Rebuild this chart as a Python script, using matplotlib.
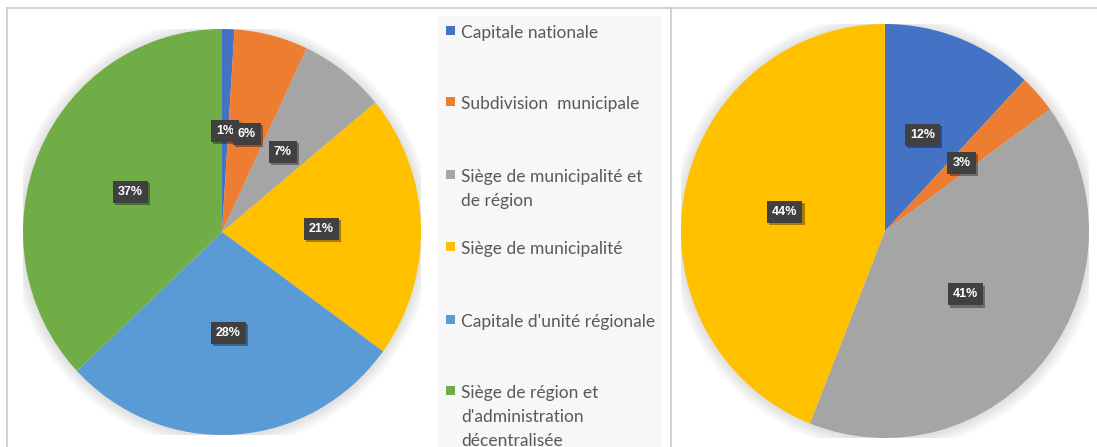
import matplotlib
matplotlib.use("Agg")
import matplotlib.pyplot as plt
import matplotlib.patheffects as pe
from matplotlib.patches import Rectangle, Circle
from matplotlib.lines import Line2D

# Categories and colours (shared legend)
categories = [
    "Capitale nationale",
    "Subdivision  municipale",
    "Siège de municipalité et\nde région",
    "Siège de municipalité",
    "Capitale d'unité régionale",
    "Siège de région et\nd'administration\ndécentralisée",
]
colors = ["#4472C4", "#ED7D31", "#A5A5A5", "#FFC000", "#5B9BD5", "#70AD47"]

# Left pie: all six categories (percent)
left_values = [1, 6, 7, 21, 28, 37]
# Right pie: first four categories (percent)
right_values = [12, 3, 41, 44]

W, H = 1097, 447
fig = plt.figure(figsize=(W / 100, H / 100), dpi=100)
fig.patch.set_facecolor("white")


def px_axes(x0, y0, x1, y1, **kw):
    """Axes from pixel box (top-left origin)."""
    return fig.add_axes([x0 / W, 1 - y1 / H, (x1 - x0) / W, (y1 - y0) / H], **kw)


# Frame lines
frame = fig.add_axes([0, 0, 1, 1], zorder=0)
frame.set_xlim(0, W)
frame.set_ylim(H, 0)
frame.axis("off")
lc = "#c9c9c9"
frame.add_line(Line2D([7, W], [8, 8], color=lc, lw=1.2))
frame.add_line(Line2D([7, 7], [8, H], color=lc, lw=1.2))
frame.add_line(Line2D([671, 671], [8, H], color=lc, lw=1.2))
# Legend background
frame.add_patch(Rectangle((438, 16), 224, H - 16, facecolor="#f7f7f7", edgecolor="none"))

# Legend entries
legend_rows = [31, 102, 175, 247, 320, 391]
for cat, col, yc in zip(categories, colors, legend_rows):
    frame.add_patch(Rectangle((446, yc - 5), 9, 9, facecolor=col, edgecolor="none"))
    frame.text(461, yc - 6, cat, color="#595959", fontsize=12.5, family="Lato",
               va="top", ha="left", linespacing=1.6)


def draw_pie(box, values, cols):
    ax = px_axes(*box)
    ax.set_zorder(2)
    # soft shadow
    for i in range(10):
        ax.add_patch(Circle((0.0, -0.005), 1.0 + 0.006 * (i + 1), facecolor="black",
                            edgecolor="none", alpha=0.012, zorder=0))
    wedges, texts = ax.pie(values, colors=cols, startangle=90, counterclock=False,
                           labels=[f"{v}%" for v in values], labeldistance=0.5,
                           wedgeprops=dict(linewidth=0), radius=1.0)
    for t in texts:
        t.set_ha("center")
        t.set_va("center")
        t.set_color("white")
        t.set_fontsize(9)
        t.set_fontweight("bold")
        t.set_family("Liberation Sans")
        t.set_bbox(dict(boxstyle="square,pad=0.4", facecolor="#404040", edgecolor="none"))
        t.get_bbox_patch().set_path_effects(
            [pe.SimplePatchShadow(offset=(1.5, -1.5), shadow_rgbFace="black", alpha=0.35),
             pe.Normal()])
        t.set_zorder(5)
    ax.set_aspect("auto")
    ax.set_xlim(-1, 1)
    ax.set_ylim(-1, 1)
    ax.axis("off")
    return ax


draw_pie((23, 29, 421, 435), left_values, colors)
draw_pie((681, 24, 1089, 438), right_values, colors[:4])

fig.savefig("out.png", dpi=100, facecolor="white")
